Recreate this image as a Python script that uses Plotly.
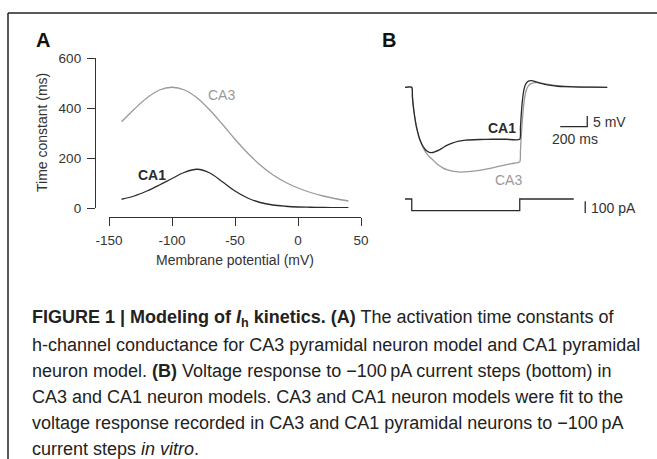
import plotly.graph_objects as go

W, H = 657, 459
def fx(px): return px / W
def fy(py): return 1 - py / H

# ---------------- Panel A data ----------------
membrane_mv = [-140, -130, -120, -110, -100, -90, -80, -70, -60, -50, -40, -30, -20, -10, 0, 10, 20, 30, 40]
tau_ca3 = [345, 395, 440, 472, 483, 472, 440, 392, 335, 275, 220, 172, 133, 103, 80, 62, 48, 37, 28]
tau_ca1 = [35, 48, 68, 92, 118, 143, 155, 140, 105, 68, 40, 22, 12, 7, 4, 3, 2, 1.5, 1]
a_xticks = [-150, -100, -50, 0, 50]
a_xticktext = ["-150", "-100", "-50", "0", "50"]
a_yticks = [0, 200, 400, 600]

# ---------------- Panel B data ----------------
t_ca1 = [-50, 0, 5, 10, 20, 30, 40, 50, 60, 70, 80, 90, 100, 115, 130, 148, 170, 200, 230, 260, 300, 350, 400,
         500, 600, 700, 800, 805, 812, 820, 830, 840, 855, 870, 889, 910, 940, 980, 1030, 1080, 1150, 1250, 1350, 1450]
v_ca1 = [0, 0, -4.5, -8, -13, -17, -20, -22.5, -24.5, -26, -27.3, -28.3, -29.2, -30, -30.5, -30.7, -30.3, -29.5,
         -28.4, -27.3, -26.2, -25.3, -24.8, -24.5, -24.4, -24.4, -24.4, -19, -12, -6, -1.5, 1, 2.5, 3.0, 3.1, 2.8,
         2.2, 1.5, 0.9, 0.5, 0.3, 0.1, 0.05, 0]
t_ca3 = [-50, 0, 5, 10, 20, 30, 40, 50, 60, 70, 80, 90, 100, 115, 130, 150, 175, 200, 230, 260, 300, 358, 420,
         500, 560, 620, 680, 740, 800, 805, 812, 820, 830, 840, 850, 865, 880, 900, 926, 950, 990, 1040, 1100,
         1180, 1280, 1450]
v_ca3 = [0, 0, -4.5, -8, -13, -17, -20, -22.5, -24.6, -26.3, -27.8, -29.1, -30.2, -31.5, -32.6, -33.7, -35.3,
         -36.6, -37.8, -38.7, -39.4, -39.8, -39.6, -39.0, -38.3, -37.5, -36.6, -35.8, -35.0, -30, -22, -15, -8,
         -3.5, -1, 0.8, 1.6, 2.1, 2.2, 2.0, 1.6, 1.1, 0.6, 0.3, 0.1, 0]
t_current = [-50, 0, 0, 800, 800, 1200]
i_current = [0, 0, -100, -100, 0, 0]

scale_t_ms = 200
scale_v_mv = 5
scale_i_pa = 100

DARK = "#2b2b2b"
GRAY = "#9a9a9a"
AX = "#333333"
FONT = "Liberation Sans, Arial, Helvetica, sans-serif"
CAP_FONT = "Liberation Sans, Arial, Helvetica, sans-serif"

fig = go.Figure()

# Panel A curves
fig.add_trace(go.Scatter(x=membrane_mv, y=tau_ca3, mode="lines", line=dict(color=GRAY, width=1.3, shape="spline"),
                         xaxis="x", yaxis="y", hoverinfo="skip"))
fig.add_trace(go.Scatter(x=membrane_mv, y=tau_ca1, mode="lines", line=dict(color=DARK, width=1.3, shape="spline"),
                         xaxis="x", yaxis="y", hoverinfo="skip"))

# Panel B voltage traces
fig.add_trace(go.Scatter(x=t_ca3, y=v_ca3, mode="lines", line=dict(color=GRAY, width=1.3, shape="spline", smoothing=0.6),
                         xaxis="x2", yaxis="y2", hoverinfo="skip"))
fig.add_trace(go.Scatter(x=t_ca1, y=v_ca1, mode="lines", line=dict(color=DARK, width=1.3, shape="spline", smoothing=0.6),
                         xaxis="x2", yaxis="y2", hoverinfo="skip"))
# current step
fig.add_trace(go.Scatter(x=t_current, y=i_current, mode="lines", line=dict(color=DARK, width=1.3),
                         xaxis="x2", yaxis="y3", hoverinfo="skip"))

# scale bars
sb_t0, sb_v0 = 1100, -18.5
fig.add_trace(go.Scatter(x=[sb_t0, sb_t0 + scale_t_ms, sb_t0 + scale_t_ms],
                         y=[sb_v0, sb_v0, sb_v0 + scale_v_mv], mode="lines",
                         line=dict(color=DARK, width=1.3), xaxis="x2", yaxis="y2", hoverinfo="skip"))
sb_ti, sb_i0 = 1285, -120
fig.add_trace(go.Scatter(x=[sb_ti, sb_ti], y=[sb_i0, sb_i0 + scale_i_pa], mode="lines",
                         line=dict(color=DARK, width=1.3), xaxis="x2", yaxis="y3", hoverinfo="skip"))

axis_common = dict(showline=True, linecolor=AX, linewidth=1.3, ticks="outside", ticklen=8, tickwidth=1.3,
                   tickcolor=AX, showgrid=False, zeroline=False, automargin=False,
                   tickfont=dict(family=FONT, size=13.5, color=AX))

fig.update_layout(
    width=W, height=H, margin=dict(l=0, r=0, t=0, b=0, pad=0, autoexpand=False),
    paper_bgcolor="white", plot_bgcolor="rgba(0,0,0,0)", showlegend=False,
    xaxis=dict(domain=[fx(109), fx(361)], range=[-150, 50], anchor="free", position=fy(217),
               tickvals=a_xticks, ticktext=a_xticktext, ticklabelstandoff=3, **axis_common),
    yaxis=dict(domain=[fy(208), fy(58)], range=[0, 600], anchor="free", position=fx(95),
               tickvals=a_yticks, ticklabelstandoff=3, **axis_common),
    xaxis2=dict(domain=[fx(405), fx(607.5)], range=[-50, 1450], anchor="y2", visible=False),
    yaxis2=dict(domain=[fy(183.15), fy(76.65)], range=[-45, 5], anchor="x2", visible=False),
    yaxis3=dict(domain=[fy(216.55), fy(193.15)], range=[-150, 50], anchor="x2", visible=False),
)

ann = []
def text(x, y, s, size=14, color=AX, xanchor="center", yanchor="middle", family=FONT, xref="paper", yref="paper", angle=0):
    ann.append(dict(x=x, y=y, xref=xref, yref=yref, text=s, showarrow=False, xanchor=xanchor, yanchor=yanchor,
                    font=dict(family=family, size=size, color=color), textangle=angle))

# panel letters
text(fx(34), fy(40), "<b>A</b>", size=20, color="#111", xanchor="left")
text(fx(380), fy(40), "<b>B</b>", size=20, color="#111", xanchor="left")
# axis titles
text(fx(235), fy(260), "Membrane potential (mV)", size=14)
text(fx(42), fy(133), "Time constant (ms)", size=14, angle=-90)
# curve labels panel A
text(-61, 452, "CA3", size=14, color=GRAY, xref="x", yref="y")
text(-116, 132, "<b>CA1</b>", size=14, color=DARK, xref="x", yref="y")
# curve labels panel B
text(665, -19, "<b>CA1</b>", size=14, color=DARK, xref="x2", yref="y2")
text(717, -43.5, "CA3", size=14, color=GRAY, xref="x2", yref="y2")
# scale bar labels
text(fx(591), fy(122.5), "5 mV", size=14, xanchor="left")
text(fx(575), fy(138.5), "200 ms", size=14)
text(fx(589), fy(208), "100 pA", size=14, xanchor="left")

# caption
cap_lines = [
    "<b>FIGURE 1 | Modeling of <i>I</i><sub>h</sub> kinetics. (A)</b> The activation time constants of",
    "h-channel conductance for CA3 pyramidal neuron model and CA1 pyramidal",
    "neuron model. <b>(B)</b> Voltage response to \u2212100\u2009pA current steps (bottom) in",
    "CA3 and CA1 neuron models. CA3 and CA1 neuron models were fit to the",
    "voltage response recorded in CA3 and CA1 pyramidal neurons to \u2212100\u2009pA",
    "current steps <i>in vitro</i>.",
]
cap_y = [318.5, 344.5, 370.5, 396.5, 422.5, 448.5]
for s, yy in zip(cap_lines, cap_y):
    text(fx(30), fy(yy), s, size=18, color="#222", xanchor="left", family=CAP_FONT)

fig.update_layout(annotations=ann)

# frame lines
fig.add_shape(type="line", xref="paper", yref="paper", x0=fx(8), x1=1.01, y0=fy(13), y1=fy(13),
              line=dict(color="#222", width=1.5))
fig.add_shape(type="line", xref="paper", yref="paper", x0=fx(8), x1=fx(8), y0=fy(13), y1=-0.01,
              line=dict(color="#222", width=1.5))

fig.write_html("out.html", config={"displayModeBar": False},
               post_script="document.body.style.margin='0';document.body.style.overflow='hidden';")
